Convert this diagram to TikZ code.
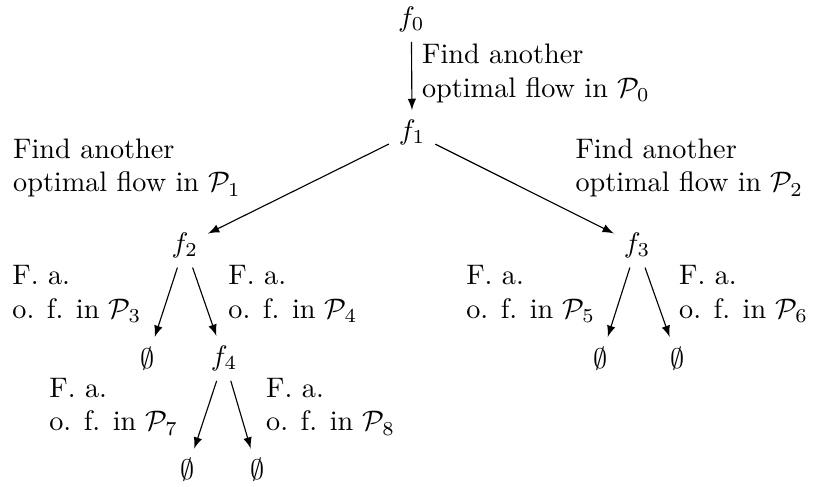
\documentclass[tikz,border=0pt]{standalone}
\usepackage{tikz}

\begin{document}
\begin{tikzpicture}[
      >=latex,
      sol/.style={align=center},
      lbl/.style={anchor=west,align=left},
      flow/.style={->,black,line width=0.4pt}
    ]
      \useasboundingbox (0,0) rectangle (10.12,-6.05);

      \node[sol] (f0) at (5.12,-0.24) {$f_0$};
      \node[sol] (f1) at (5.13,-1.65) {$f_1$};
      \node[sol] (f2) at (2.30,-3.05) {$f_2$};
      \node[sol] (f3) at (7.93,-3.05) {$f_3$};
      \node[sol] (e1) at (1.84,-4.46) {$\emptyset$};
      \node[sol] (f4) at (2.79,-4.46) {$f_4$};
      \node[sol] (e2) at (7.48,-4.46) {$\emptyset$};
      \node[sol] (e3) at (8.43,-4.46) {$\emptyset$};
      \node[sol] (e4) at (2.33,-5.85) {$\emptyset$};
      \node[sol] (e5) at (3.20,-5.85) {$\emptyset$};

      \node[lbl] (l0) at (5.13,-0.91) {Find another\\optimal flow in $\mathcal{P}_0$};
      \node[lbl] (l1) at (0.04,-2.09) {Find another\\optimal flow in $\mathcal{P}_1$};
      \node[lbl] (l2) at (7.04,-2.09) {Find another\\optimal flow in $\mathcal{P}_2$};
      \node[lbl] (l3) at (0.03,-3.66) {F. a.\\o. f. in $\mathcal{P}_3$};
      \node[lbl] (l4) at (2.72,-3.66) {F. a.\\o. f. in $\mathcal{P}_4$};
      \node[lbl] (l5) at (5.68,-3.66) {F. a.\\o. f. in $\mathcal{P}_5$};
      \node[lbl] (l6) at (8.33,-3.66) {F. a.\\o. f. in $\mathcal{P}_6$};
      \node[lbl] (l7) at (0.49,-5.06) {F. a.\\o. f. in $\mathcal{P}_7$};
      \node[lbl] (l8) at (3.19,-5.06) {F. a.\\o. f. in $\mathcal{P}_8$};

      \draw[flow] (f0) -- (f1);
      \draw[flow] (f1) -- (f2);
      \draw[flow] (f1) -- (f3);
      \draw[flow] (f2) -- (e1);
      \draw[flow] (f2) -- (f4);
      \draw[flow] (f3) -- (e2);
      \draw[flow] (f3) -- (e3);
      \draw[flow] (f4) -- (e4);
      \draw[flow] (f4) -- (e5);
    \end{tikzpicture}
\end{document}
